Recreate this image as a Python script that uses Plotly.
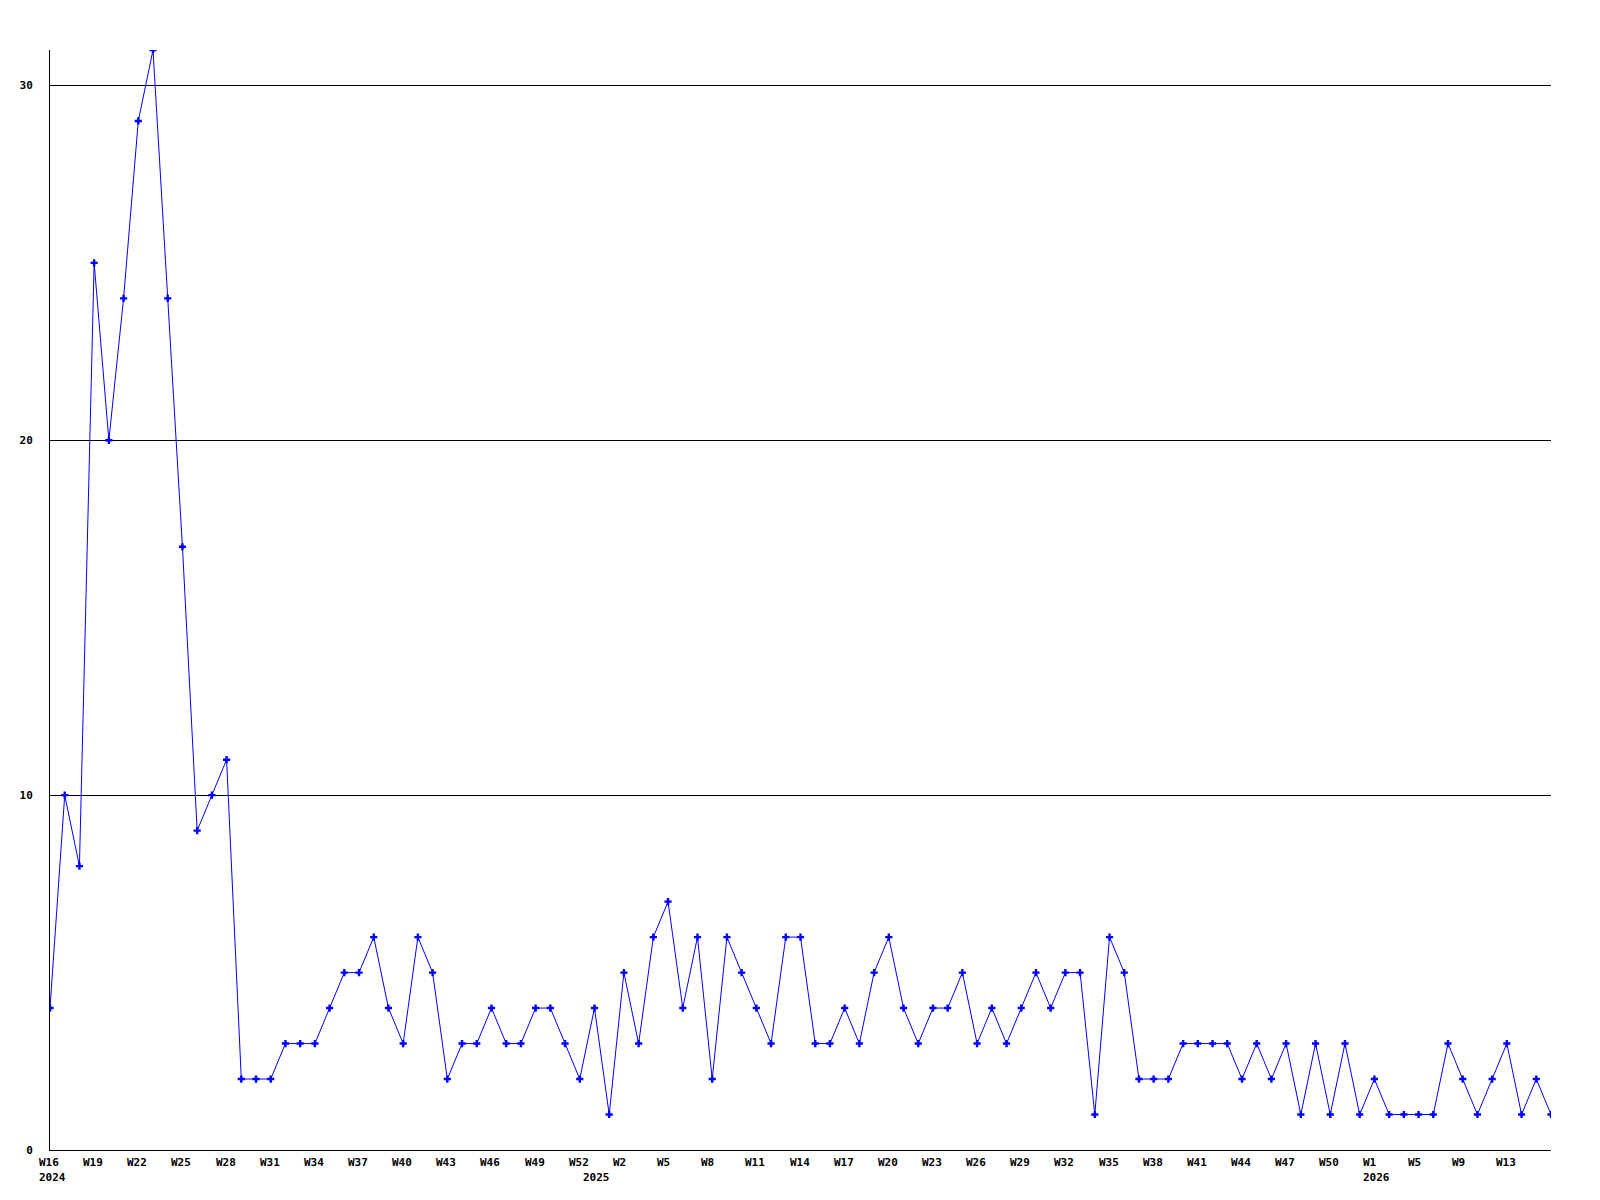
import plotly.graph_objects as go

# Weekly counts, W16 2024 .. 2026
values = [4, 10, 8, 25, 20, 24, 29, 31, 24, 17, 9, 10, 11, 2, 2, 2, 3, 3, 3, 4,
          5, 5, 6, 4, 3, 6, 5, 2, 3, 3, 4, 3, 3, 4, 4, 3, 2, 4, 1, 5,
          3, 6, 7, 4, 6, 2, 6, 5, 4, 3, 6, 6, 3, 3, 4, 3, 5, 6, 4, 3,
          4, 4, 5, 3, 4, 3, 4, 5, 4, 5, 5, 1, 6, 5, 2, 2, 2, 3, 3, 3,
          3, 2, 3, 2, 3, 1, 3, 1, 3, 1, 2, 1, 1, 1, 1, 3, 2, 1, 2, 3,
          1, 2, 1]
week_index = list(range(len(values)))

tick_positions = list(range(0, 100, 3))
tick_labels = ["W16", "W19", "W22", "W25", "W28", "W31", "W34", "W37", "W40", "W43",
               "W46", "W49", "W52", "W2", "W5", "W8", "W11", "W14", "W17", "W20",
               "W23", "W26", "W29", "W32", "W35", "W38", "W41", "W44", "W47", "W50",
               "W1", "W5", "W9", "W13"]
year_positions = [0, 37, 90]
year_labels = ["2024", "2025", "2026"]
y_ticks = [0, 10, 20, 30]

FONT = dict(family="DejaVu Sans Mono", size=11, color="black", weight="bold")

fig = go.Figure()
fig.add_trace(go.Scatter(
    x=week_index, y=values, mode="lines+markers",
    line=dict(color="#0000ff", width=1),
    marker=dict(symbol="cross", size=6, color="#0000ff", line=dict(width=0)),
    showlegend=False, hoverinfo="x+y",
))

annotations = []
for pos, lab in zip(tick_positions, tick_labels):
    annotations.append(dict(x=pos, y=0, xref="x", yref="paper", text=lab,
                            showarrow=False, xanchor="left", yanchor="middle",
                            xshift=-13, yshift=-12, font=FONT))
for pos, lab in zip(year_positions, year_labels):
    annotations.append(dict(x=pos, y=0, xref="x", yref="paper", text=lab,
                            showarrow=False, xanchor="left", yanchor="middle",
                            xshift=-13, yshift=-27, font=FONT))

# page body has an 8px default margin; compensate so the plot area sits at 50..1551 x 50..1150
fig.update_layout(
    width=1600, height=1200,
    margin=dict(l=42, r=57, t=42, b=58, autoexpand=False),
    paper_bgcolor="white", plot_bgcolor="white",
    font=FONT,
    annotations=annotations,
    xaxis=dict(range=[0, 102], tickvals=tick_positions, showticklabels=False,
               showgrid=False, zeroline=False, showline=True, linecolor="black",
               linewidth=1, ticks="", automargin=False),
    yaxis=dict(range=[0, 31], tickvals=y_ticks, ticktext=[str(v) for v in y_ticks],
               showgrid=True, gridcolor="black", gridwidth=1, zeroline=False,
               showline=True, linecolor="black", linewidth=1,
               ticks="outside", ticklen=14, tickcolor="rgba(0,0,0,0)",
               tickfont=FONT, automargin=False),
)

fig.write_html("out.html")
